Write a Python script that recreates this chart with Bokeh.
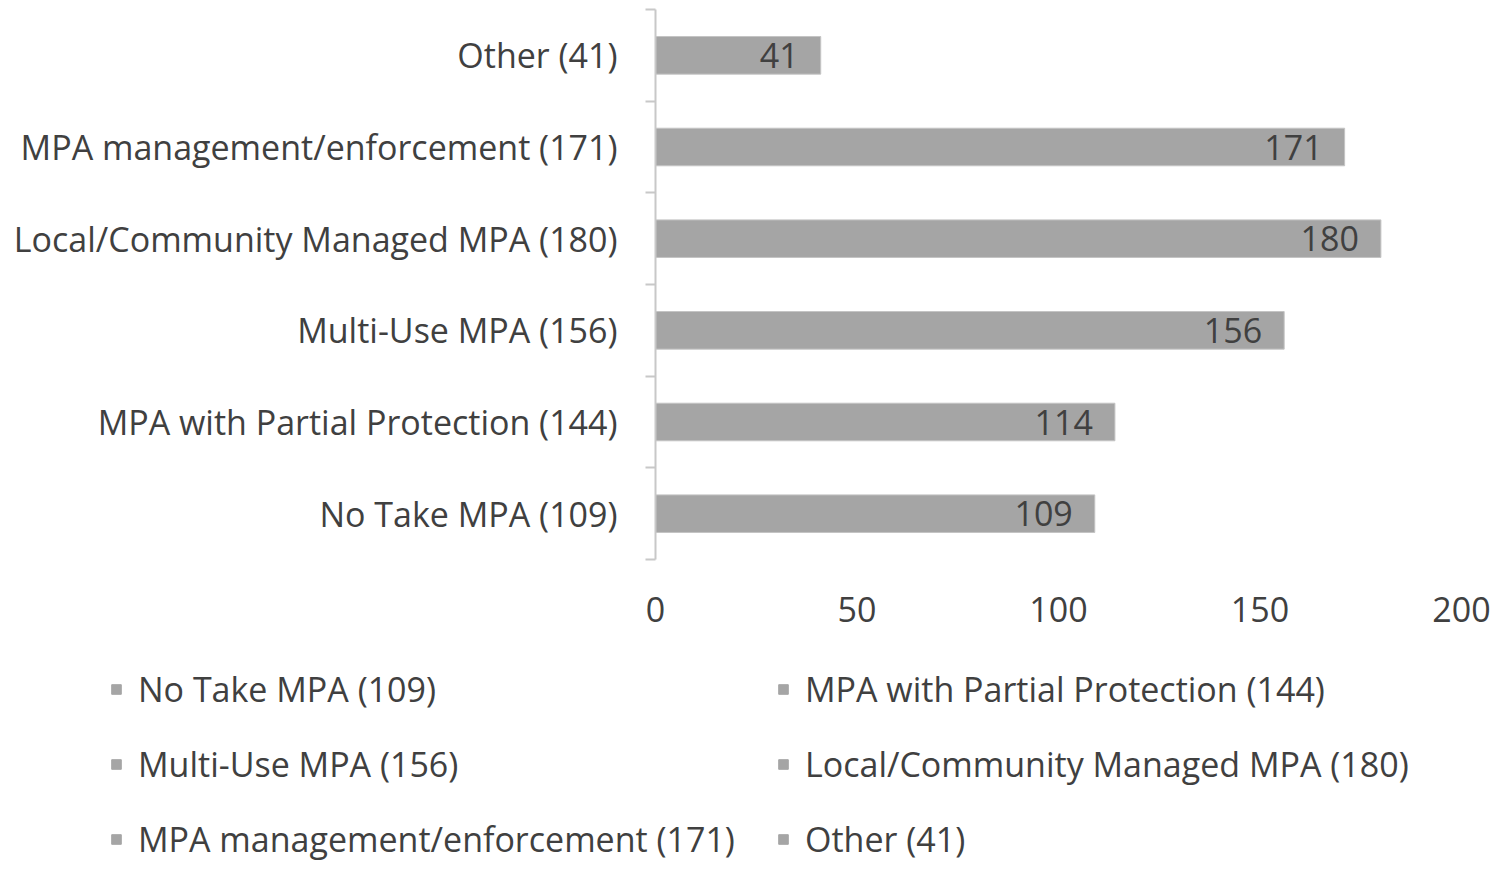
from bokeh.plotting import figure
from bokeh.models import Range1d, FixedTicker, ColumnDataSource, Legend, LegendItem
from bokeh.core.properties import value
from bokeh.embed import file_html
from bokeh.resources import INLINE

categories = ["No Take MPA (109)", "MPA with Partial Protection (144)", "Multi-Use MPA (156)",
              "Local/Community Managed MPA (180)", "MPA management/enforcement (171)", "Other (41)"]
values = [109, 114, 156, 180, 171, 41]
x_ticks = [0, 50, 100, 150, 200]

FONT = "Open Sans"
TXT = "#404040"
FS = "34px"
BAR = "#a5a5a5"

# page layout (pixels): plot area inside the canvas
W, H = 1492, 862
PL, PR, PT, PB = 655, 1461, 9, 559      # plot-area edges
XMAX = 200
NCAT = len(categories)
xs = (PR - PL) / XMAX
ys = (PB - PT) / NCAT
x_range = Range1d(-PL / xs, XMAX + (W - PR) / xs)
y_range = Range1d(-(H - PB) / ys, NCAT + PT / ys)

pos = [i + 0.5 for i in range(NCAT)]
src = ColumnDataSource(dict(y=pos, v=values, lab=[str(v) for v in values], cat=categories))

p = figure(width=W, height=H, output_backend="svg", toolbar_location=None,
           x_range=x_range, y_range=y_range,
           min_border_left=0, min_border_right=0, min_border_top=0, min_border_bottom=0)
p.outline_line_color = None
p.xgrid.grid_line_color = None
p.ygrid.grid_line_color = None

p.hbar(y="y", right="v", left=0, height=0.41, source=src,
       fill_color=BAR, line_color="#c4c4c4", line_width=1)
p.text(x="v", y="y", text="lab", source=src, x_offset=-22, text_align="right",
       text_baseline="middle", text_font=value(FONT), text_font_size=FS, text_color=TXT)

# x axis (pinned at y = 0)
p.xaxis.fixed_location = 0
p.xaxis.ticker = FixedTicker(ticks=x_ticks)
p.xaxis.axis_line_color = None
p.xaxis.major_tick_line_color = None
p.xaxis.minor_tick_line_color = None
p.xaxis.major_label_standoff = 31
p.xaxis.major_label_text_font = FONT
p.xaxis.major_label_text_font_size = FS
p.xaxis.major_label_text_color = TXT

# y axis (pinned at x = 0)
p.yaxis.fixed_location = 0
p.yaxis.bounds = (0, NCAT)
p.yaxis.ticker = FixedTicker(ticks=pos, minor_ticks=list(range(NCAT + 1)))
p.yaxis.major_label_overrides = {y: c for y, c in zip(pos, categories)}
p.yaxis.axis_line_color = "#c8c8c8"
p.yaxis.axis_line_width = 2
p.yaxis.major_tick_line_color = None
p.yaxis.major_tick_out = 0
p.yaxis.major_tick_in = 0
p.yaxis.minor_tick_line_color = "#c8c8c8"
p.yaxis.minor_tick_line_width = 2
p.yaxis.minor_tick_out = 10
p.yaxis.minor_tick_in = 0
p.yaxis.major_label_standoff = 28
p.yaxis.major_label_text_font = FONT
p.yaxis.major_label_text_font_size = FS
p.yaxis.major_label_text_color = TXT

# legend (dummy renderers carry the series names)
items = []
for c in categories:
    r = p.quad(left=[0], right=[0], bottom=[0], top=[0], fill_color=BAR,
               line_color=BAR, visible=False)
    items.append(LegendItem(label=c, renderers=[r]))
leg = Legend(items=items, orientation="horizontal", ncols=2,
             location=(110, 0), glyph_width=12, glyph_height=12,
             label_standoff=16, spacing=29, padding=0, margin=0, label_width=610,
             label_text_font=FONT, label_text_font_size=FS, label_text_color=TXT,
             label_height=34, border_line_color=None, background_fill_alpha=0)
p.add_layout(leg, "center")

open("out.html", "w").write(file_html(p, INLINE))
